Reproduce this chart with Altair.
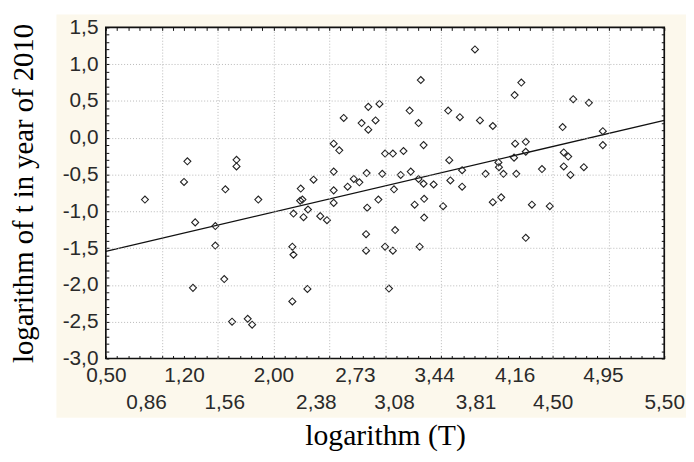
import altair as alt
import pandas as pd

# ---- data ----
x_vals = [0.85, 1.23, 1.20, 1.28, 1.30, 1.48, 1.48, 1.56, 1.57, 1.63, 1.67, 1.67, 1.77, 1.81, 1.865,
          2.17, 2.18, 2.17, 2.18, 2.24, 2.26, 2.245, 2.27, 2.31, 2.305, 2.36, 2.42, 2.48, 2.54, 2.59,
          2.54, 2.54, 2.54, 2.63, 2.665, 2.72, 2.77, 2.835, 2.84, 2.83, 2.83, 2.85, 2.95, 2.79, 2.915,
          2.85, 2.975, 2.94, 3.00, 3.07, 3.00, 3.07, 3.035, 3.08, 3.09, 3.14, 3.165, 3.22, 3.23, 3.265,
          3.30, 3.30, 3.32, 3.31, 3.345, 3.345, 3.35, 3.35, 3.435, 3.52, 3.565, 3.575, 3.585, 3.67, 3.69,
          3.69, 3.805, 3.85, 3.90, 3.965, 3.965, 4.015, 4.02, 4.06, 4.04, 4.155, 4.165, 4.16, 4.175, 4.22,
          4.26, 4.26, 4.26, 4.315, 4.405, 4.475, 4.59, 4.60, 4.64, 4.60, 4.66, 4.685, 4.78, 4.825, 4.95, 4.95]
y_vals = [-0.84, -0.32, -0.60, -2.04, -1.15, -1.20, -1.465, -1.92, -0.70, -2.50, -0.30, -0.39, -2.46, -2.54, -0.84,
          -1.48, -1.59, -2.225, -1.03, -0.855, -0.84, -0.69, -1.08, -0.975, -2.055, -0.57, -1.065, -1.12, -0.08, -0.17,
          -0.46, -0.715, -0.885, 0.27, -0.665, -0.56, -0.605, -0.48, -0.95, -1.31, -1.535, 0.42, 0.46, 0.20, 0.235,
          0.11, -0.49, -0.84, -0.215, -0.215, -1.48, -1.535, -2.05, -0.70, -1.255, -0.505, -0.18, 0.37, -0.46, -0.91,
          0.20, -0.56, 0.785, -1.48, -0.10, -0.625, -0.83, -1.085, -0.635, -0.93, 0.37, -0.305, -0.58, 0.28, -0.44,
          -0.665, 1.20, 0.235, -0.49, 0.16, -0.875, -0.335, -0.40, -0.49, -0.81, -0.27, -0.08, 0.58, -0.49, 0.75,
          -0.055, -0.19, -1.36, -0.91, -0.425, -0.93, 0.145, -0.20, -0.255, -0.39, -0.505, 0.525, -0.40, 0.475, 0.09, -0.10]

line_x = [0.5, 5.5]
line_y = [-1.545, 0.237]

x_label_values = [0.50, 0.86, 1.20, 1.56, 2.00, 2.38, 2.73, 3.08, 3.44, 3.81, 4.16, 4.50, 4.95, 5.50]
x_lower_row = [0.86, 1.56, 2.38, 3.08, 3.81, 4.50, 5.50]
y_label_values = [-3.0, -2.5, -2.0, -1.5, -1.0, -0.5, 0.0, 0.5, 1.0, 1.5]
x_grid_values = [1.0, 1.5, 2.0, 2.5, 3.0, 3.5, 4.0, 4.5, 5.0]
y_grid_values = [-2.5, -2.0, -1.5, -1.0, -0.5, 0.0, 0.5, 1.0]
x_minor = [round(0.5 + 0.1 * i, 1) for i in range(51)]
y_minor = [round(-3.0 + 0.1 * i, 1) for i in range(46)]

x_title = "logarithm (T)"
y_title = "logarithm of t in year of 2010"

BEIGE = "#fcf8ec"
LABEL_FONT = "Liberation Sans"
TITLE_FONT = "Liberation Serif"

pts = pd.DataFrame({"x": x_vals, "y": y_vals})
ln = pd.DataFrame({"x": line_x, "y": line_y})
one = pd.DataFrame({"a": [0]})

x_scale = alt.Scale(domain=[0.5, 5.5], nice=False, zero=False)
y_scale = alt.Scale(domain=[-3.0, 1.5], nice=False, zero=False)

lower_test = "indexof(" + str(x_lower_row) + ", datum.value) >= 0"

ax_bottom = alt.Axis(
    orient="bottom", values=x_label_values, ticks=False, tickSize=0, domain=False, grid=False,
    labelExpr="replace(format(datum.value, '.2f'), '.', ',')",
    labelFont=LABEL_FONT, labelFontSize=21, labelColor="#2a2a2a",
    labelFlush=False, labelOverlap=False, labelBound=False,
    labelPadding={"condition": {"test": lower_test, "value": 34}, "value": 6},
    title=x_title, titleFont=TITLE_FONT, titleFontSize=30, titleFontWeight="normal",
    titleColor="black", titleX=282.5, titleY=87, titleBaseline="alphabetic", titleAlign="center",
    zindex=1,
)
ax_left = alt.Axis(
    orient="left", values=y_label_values, ticks=False, tickSize=0, domain=False, grid=False,
    labelExpr="replace(replace(format(datum.value, '.1f'), '.', ','), '\u2212', '-')",
    labelFont=LABEL_FONT, labelFontSize=21, labelColor="#2a2a2a", labelPadding=8,
    labelFlush=False, labelOverlap=False, labelBound=False, labelBaseline="middle",
    title=y_title, titleFont=TITLE_FONT, titleFontSize=29, titleFontWeight="normal",
    titleColor="black", titleAngle=270, titleX=-74, titleY=167.5,
    titleBaseline="alphabetic", titleAlign="center",
    zindex=1,
)
grid_common = dict(labels=False, ticks=False, domain=False, grid=True,
                   gridColor="#b8b8b8", gridDash=[1, 2], gridWidth=1, title=None, zindex=1)
ax_top_grid = alt.Axis(orient="top", values=x_grid_values, **grid_common)
ax_right_grid = alt.Axis(orient="right", values=y_grid_values, **grid_common)

minor_common = dict(labels=False, ticks=True, tickSize=3, tickColor="#111", tickWidth=1,
                    domain=False, grid=False, offset=-3, title=None, zindex=1)
ax_bottom_minor = alt.Axis(orient="bottom", values=x_minor, **minor_common)
ax_left_minor = alt.Axis(orient="left", values=y_minor, **minor_common)
ax_top_minor = alt.Axis(orient="top", values=x_minor, **minor_common)
ax_right_minor = alt.Axis(orient="right", values=y_minor, **minor_common)

beige = alt.Chart(one).mark_rect(color=BEIGE).encode(
    x=alt.value(-50), x2=alt.value(590), y=alt.value(-13), y2=alt.value(395)
)
white = alt.Chart(one).mark_rect(color="white").encode(
    x=alt.value(0), x2=alt.value("width"), y=alt.value(0), y2=alt.value("height")
)
minor1 = alt.Chart(pts).mark_point(opacity=0).encode(
    x=alt.X("x:Q", scale=x_scale, axis=ax_bottom_minor),
    y=alt.Y("y:Q", scale=y_scale, axis=ax_left_minor),
)
minor2 = alt.Chart(pts).mark_point(opacity=0).encode(
    x=alt.X("x:Q", scale=x_scale, axis=ax_top_minor),
    y=alt.Y("y:Q", scale=y_scale, axis=ax_right_minor),
)
line = alt.Chart(ln).mark_line(color="#111", strokeWidth=1.3).encode(
    x=alt.X("x:Q", scale=x_scale, axis=ax_top_grid),
    y=alt.Y("y:Q", scale=y_scale, axis=ax_right_grid),
)
points = alt.Chart(pts).mark_point(
    shape="diamond", size=50, filled=False, color="#222", strokeWidth=1.1, opacity=1
).encode(
    x=alt.X("x:Q", scale=x_scale, axis=ax_bottom),
    y=alt.Y("y:Q", scale=y_scale, axis=ax_left),
)
border = alt.Chart(one).mark_rect(fillOpacity=0, stroke="#111", strokeWidth=1.7).encode(
    x=alt.value(0), x2=alt.value("width"), y=alt.value(0), y2=alt.value("height")
)

chart = (
    alt.layer(beige, white, minor1, minor2, line, points, border)
    .resolve_axis(x="independent", y="independent")
    .properties(
        width=565, height=335,
        autosize=alt.AutoSizeParams(type="none"),
        padding={"left": 99, "top": 17, "right": 22, "bottom": 94},
        background="white",
    )
    .configure_view(stroke=None)
)

chart.save("out.html", embed_options={"renderer": "svg", "actions": False})
